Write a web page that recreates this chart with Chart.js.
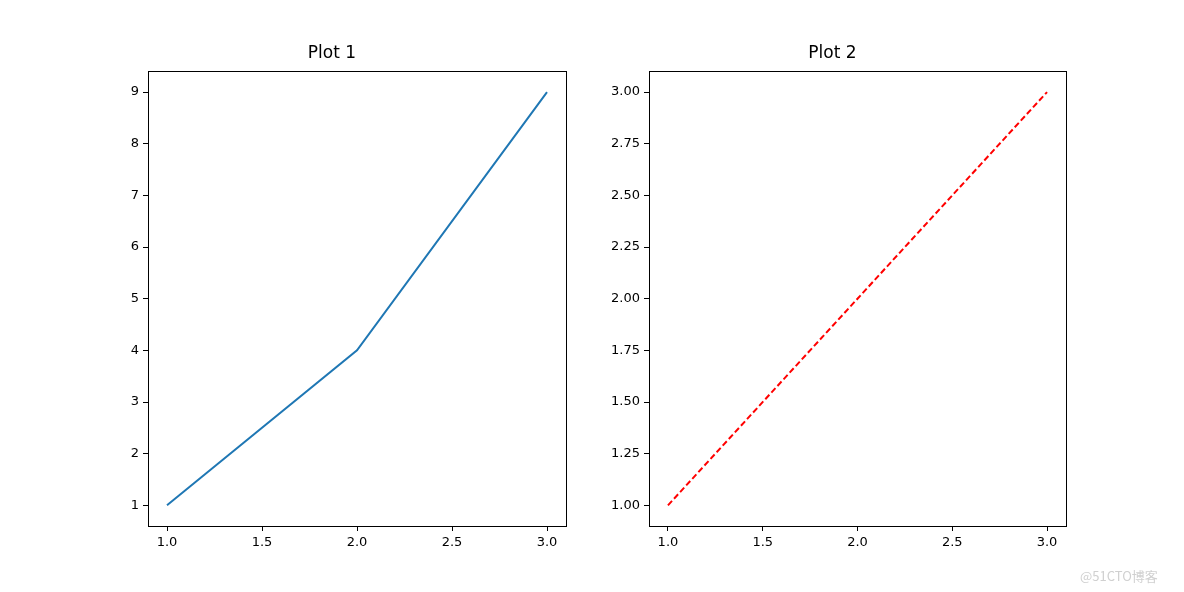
<!DOCTYPE html>
<html><head><meta charset="utf-8">
<script src="https://cdn.jsdelivr.net/npm/chart.js@4"></script>
<style>
body{margin:0;background:#fff;width:1184px;height:592px;position:relative;overflow:hidden}
.c{position:absolute;top:0;width:592px;height:592px}
#wm{position:absolute;left:1080px;top:566px;font:13px "Noto Sans CJK SC",sans-serif;color:#d0d0d0}
</style></head><body>
<div class="c" style="left:0"><canvas id="a"></canvas></div>
<div class="c" style="left:592px"><canvas id="b"></canvas></div>
<div id="wm">@51CTO博客</div>
<script>
const xValues=[1,2,3];
const y1Values=[1,4,9];
const y2Values=[1,2,3];
const xTicks=[1.0,1.5,2.0,2.5,3.0];
const y1Ticks=[1,2,3,4,5,6,7,8,9];
const y2Ticks=[1.00,1.25,1.50,1.75,2.00,2.25,2.50,2.75,3.00];
const titles=['Plot 1','Plot 2'];

const boxPlugin={id:'box',afterDraw(c){const a=c.chartArea,x=c.ctx;x.save();x.strokeStyle='#000';x.lineWidth=1;x.strokeRect(Math.round(a.left)+0.5,Math.round(a.top)+0.5,Math.round(a.right-a.left),Math.round(a.bottom-a.top));x.restore();}};
function make(id,ys,yt,dec,color,dash,pad,ymin,ymax){
  const font={family:'DejaVu Sans',size:13};
  new Chart(document.getElementById(id),{type:'line',
    data:{datasets:[{data:xValues.map((x,i)=>({x,y:ys[i]})),borderColor:color,borderWidth:2,borderDash:dash,pointRadius:0,fill:false,tension:0}]},
    options:{animation:false,responsive:true,maintainAspectRatio:false,
      layout:{padding:pad},
      plugins:{legend:{display:false},tooltip:{enabled:false},
        title:{display:true,text:titles[id==='a'?0:1],color:'#000',font:{family:'DejaVu Sans',size:17,weight:'normal'},padding:{top:43,bottom:8}}},
      scales:{
        x:{type:'linear',min:0.9,max:3.1,afterFit(s){s.height=30},afterBuildTicks(s){s.ticks=xTicks.map(v=>({value:v}))},
          border:{display:false},grid:{drawOnChartArea:false,drawTicks:true,tickLength:5,color:'#000'},
          ticks:{color:'#000',font,padding:4,maxRotation:0,autoSkip:false,callback:v=>Number(v).toFixed(1)}},
        y:{type:'linear',min:ymin,max:ymax,afterFit(s){s.width=50},afterBuildTicks(s){s.ticks=yt.map(v=>({value:v}))},
          border:{display:false},grid:{drawOnChartArea:false,drawTicks:true,tickLength:5,color:'#000'},
          ticks:{color:'#000',font,padding:4,autoSkip:false,callback:v=>Number(v).toFixed(dec)}}}},
    plugins:[boxPlugin]});
}
make('a',y1Values,y1Ticks,0,'#1f77b4',[],{left:98,right:26,top:0,bottom:36},0.6,9.4);
make('b',y2Values,y2Ticks,2,'#ff0000',[6,3],{left:7,right:118,top:0,bottom:36},0.9,3.1);
</script></body></html>
